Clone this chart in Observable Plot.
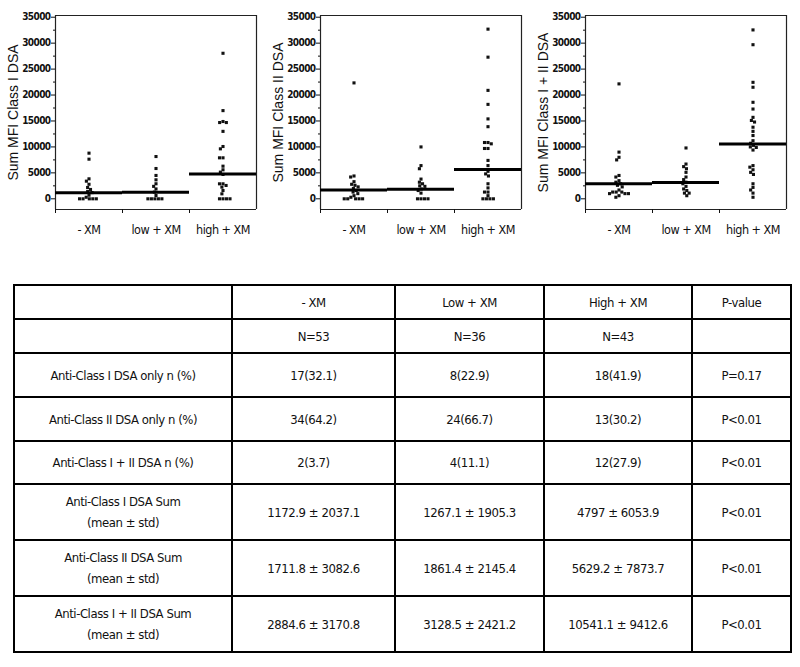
<!DOCTYPE html>
<html>
<head>
<meta charset="utf-8">
<script src="https://cdn.jsdelivr.net/npm/d3@7"></script>
<script src="https://cdn.jsdelivr.net/npm/@observablehq/plot@0.6"></script>
<style>
  html, body { margin: 0; padding: 0; background: #fff; }
  body { width: 800px; height: 667px; position: relative; overflow: hidden; }
  .panel { position: absolute; top: 0; }
  .panel svg { overflow: visible; }
  .panel g[aria-label="y-axis tick label"] { font-family: "DejaVu Sans Condensed", "DejaVu Sans", sans-serif; font-stretch: condensed; font-size: 10px; font-weight: bold; letter-spacing: -0.6px; }
  .panel g[aria-label="y-axis label"] { font-family: "Liberation Sans", Arial, sans-serif; font-size: 14px; font-weight: normal; letter-spacing: 0; }
  .panel g[aria-label="fx-axis tick label"] { font-family: "DejaVu Sans Condensed", "DejaVu Sans", sans-serif; font-stretch: condensed; font-size: 12.5px; letter-spacing: -0.5px; }
  table { position: absolute; left: 13px; top: 284px; width: 777px; border-collapse: collapse; table-layout: fixed;
          font-family: "DejaVu Sans Condensed", "DejaVu Sans", sans-serif; font-stretch: condensed; font-size: 13px; letter-spacing: -0.45px; color: #111; }
  td { border: 2px solid #000; text-align: center; vertical-align: middle; padding: 0; line-height: 21px; }
  tr.head td { height: 32px; }
  tr.n td { height: 32px; }
  tr.pct td { height: 42px; }
  tr.pct3 td { height: 41px; }
  tr.sum td { height: 54px; }
</style>
</head>
<body>
<div id="p1" class="panel" style="left:0px"></div>
<div id="p2" class="panel" style="left:265px"></div>
<div id="p3" class="panel" style="left:530px"></div>
<table id="tbl">
  <colgroup><col style="width:218px"><col style="width:163px"><col style="width:149px"><col style="width:148px"><col style="width:99px"></colgroup>
  <tbody></tbody>
</table>
<script>
// ---- categories ----
const groups = ["- XM", "low + XM", "high + XM"];

// ---- Panel 1: Sum MFI Class I DSA ----
const classI_neg  = [8800, 7640, 3850, 3400, 2800, 2180, 1800, 1410, 1200, 700, 300, 0, 0, 0, 0, 0];
const classI_low  = [8150, 5840, 4500, 3660, 2900, 2400, 1900, 1300, 640, 0, 0, 0, 0, 0];
const classI_high = [28050, 17000, 14900, 14700, 14700, 13000, 10080, 9630, 7900, 7900, 6290, 5590, 5140, 4690, 2890, 2890, 2570, 2250, 1600, 960, 0, 0, 0, 0];
const classI_mean = [1172.9, 1267.1, 4797];

// ---- Panel 2: Sum MFI Class II DSA ----
const classII_neg  = [22340, 4400, 4200, 3300, 2800, 2600, 2300, 2000, 1600, 1300, 1000, 600, 300, 0, 0, 0, 0, 0];
const classII_low  = [10000, 6400, 5800, 3800, 3200, 2900, 2500, 2400, 1900, 1600, 1100, 0, 0, 0, 0];
const classII_high = [32700, 27300, 20900, 18200, 15400, 13900, 10850, 10850, 10600, 9700, 9700, 7400, 6400, 5300, 4800, 4400, 2900, 2100, 1300, 1300, 600, 0, 0, 0, 0];
const classII_mean = [1711.8, 1861.4, 5629.2];

// ---- Panel 3: Sum MFI Class I + II DSA ----
const classBoth_neg  = [22150, 9000, 8000, 7500, 4500, 4200, 3500, 3200, 2900, 2600, 2300, 1700, 1300, 1300, 1300, 1000, 1000, 1000, 600, 300];
const classBoth_low  = [9800, 6700, 6200, 5800, 5100, 4200, 3700, 3200, 2900, 2400, 1900, 1600, 1100, 1100, 600];
const classBoth_high = [32550, 29700, 22450, 21500, 18600, 17300, 15700, 15100, 14800, 13800, 13000, 12200, 11200, 10700, 10300, 10000, 9900, 9400, 6400, 6100, 5600, 5100, 4700, 2900, 2200, 1700, 1100, 300];
const classBoth_mean = [2884.6, 3128.5, 10541.1];

// ---- axis ticks ----
const majorTicks = [0, 5000, 10000, 15000, 20000, 25000, 30000, 35000];
const minorTicks = [2500, 7500, 12500, 17500, 22500, 27500, 32500];
const yLabels = ["Sum MFI Class I DSA", "Sum MFI Class II DSA", "Sum MFI Class I + II DSA"];

// ---- table ----
const colHeads  = ["", "- XM", "Low + XM", "High + XM", "P-value"];
const nRow      = ["", "N=53", "N=36", "N=43", ""];
const rowLabels = ["Anti-Class I DSA only  n (%)", "Anti-Class II DSA only  n (%)", "Anti-Class I + II DSA  n (%)",
                   "Anti-Class I DSA Sum|(mean ± std)", "Anti-Class II DSA Sum|(mean ± std)", "Anti-Class I + II DSA Sum|(mean ± std)"];
const negXM   = ["17(32.1)", "34(64.2)", "2(3.7)", "1172.9 ± 2037.1", "1711.8 ± 3082.6", "2884.6 ± 3170.8"];
const lowXM   = ["8(22.9)", "24(66.7)", "4(11.1)", "1267.1 ± 1905.3", "1861.4 ± 2145.4", "3128.5 ± 2421.2"];
const highXM  = ["18(41.9)", "13(30.2)", "12(27.9)", "4797 ± 6053.9", "5629.2 ± 7873.7", "10541.1 ± 9412.6"];
const pValues = ["P=0.17", "P<0.01", "P<0.01", "P<0.01", "P<0.01", "P<0.01"];

const yMin = -2060, yMax = 35330;

function panel(id, series, means, label) {
  const data = groups.flatMap((g, i) => series[i].map(v => ({g, v})));
  const meanData = groups.map((g, i) => ({g, m: means[i]}));
  const svg = Plot.plot({
    width: 265, height: 250,
    marginLeft: 55, marginRight: 9, marginTop: 15, marginBottom: 41,
    style: {fontFamily: "DejaVu Sans Condensed, sans-serif", fontSize: "10px", background: "transparent", color: "#111"},
    fx: {domain: groups, padding: 0},
    x: {domain: [0, 1]},
    y: {domain: [yMin, yMax]},
    marks: [
      Plot.ruleY([yMin, yMax], {stroke: "#222", strokeWidth: 1.2}),
      Plot.ruleX([0], {x: d => d, fx: () => groups[0], stroke: "#222", strokeWidth: 1.2}),
      Plot.ruleX([1], {x: d => d, fx: () => groups[2], stroke: "#222", strokeWidth: 1.2}),
      Plot.axisX({ticks: [0], tickSize: 4, tickFormat: () => "", label: null}),
      Plot.axisY({ticks: majorTicks, tickSize: 4, tickPadding: 1, tickFormat: "d", label, labelAnchor: "center", labelArrow: "none", labelOffset: 47}),
      Plot.axisY({ticks: minorTicks, tickSize: 2, tickFormat: () => "", label: null}),
      Plot.axisFx({anchor: "bottom", tickSize: 0, tickPadding: 16, label: null}),
      Plot.dot(data, Plot.dodgeX({anchor: "middle", padding: 0}, {fx: "g", y: "v", r: 1.75, symbol: "square", fill: "#111", stroke: "none"})),
      Plot.ruleY(meanData, {fx: "g", y: "m", stroke: "#000", strokeWidth: 3})
    ]
  });
  document.getElementById(id).appendChild(svg);
}

panel("p1", [classI_neg, classI_low, classI_high], classI_mean, yLabels[0]);
panel("p2", [classII_neg, classII_low, classII_high], classII_mean, yLabels[1]);
panel("p3", [classBoth_neg, classBoth_low, classBoth_high], classBoth_mean, yLabels[2]);

// build table
const tbody = document.querySelector("#tbl tbody");
function addRow(cls, cells) {
  const tr = document.createElement("tr");
  tr.className = cls;
  for (const c of cells) {
    const td = document.createElement("td");
    c.split("|").forEach((part, k) => {
      if (k) td.appendChild(document.createElement("br"));
      td.appendChild(document.createTextNode(part));
    });
    tr.appendChild(td);
  }
  tbody.appendChild(tr);
}
addRow("head", colHeads);
addRow("n", nRow);
rowLabels.forEach((lab, i) => addRow(i < 2 ? "pct" : i === 2 ? "pct3" : "sum", [lab, negXM[i], lowXM[i], highXM[i], pValues[i]]));
</script>
</body>
</html>
